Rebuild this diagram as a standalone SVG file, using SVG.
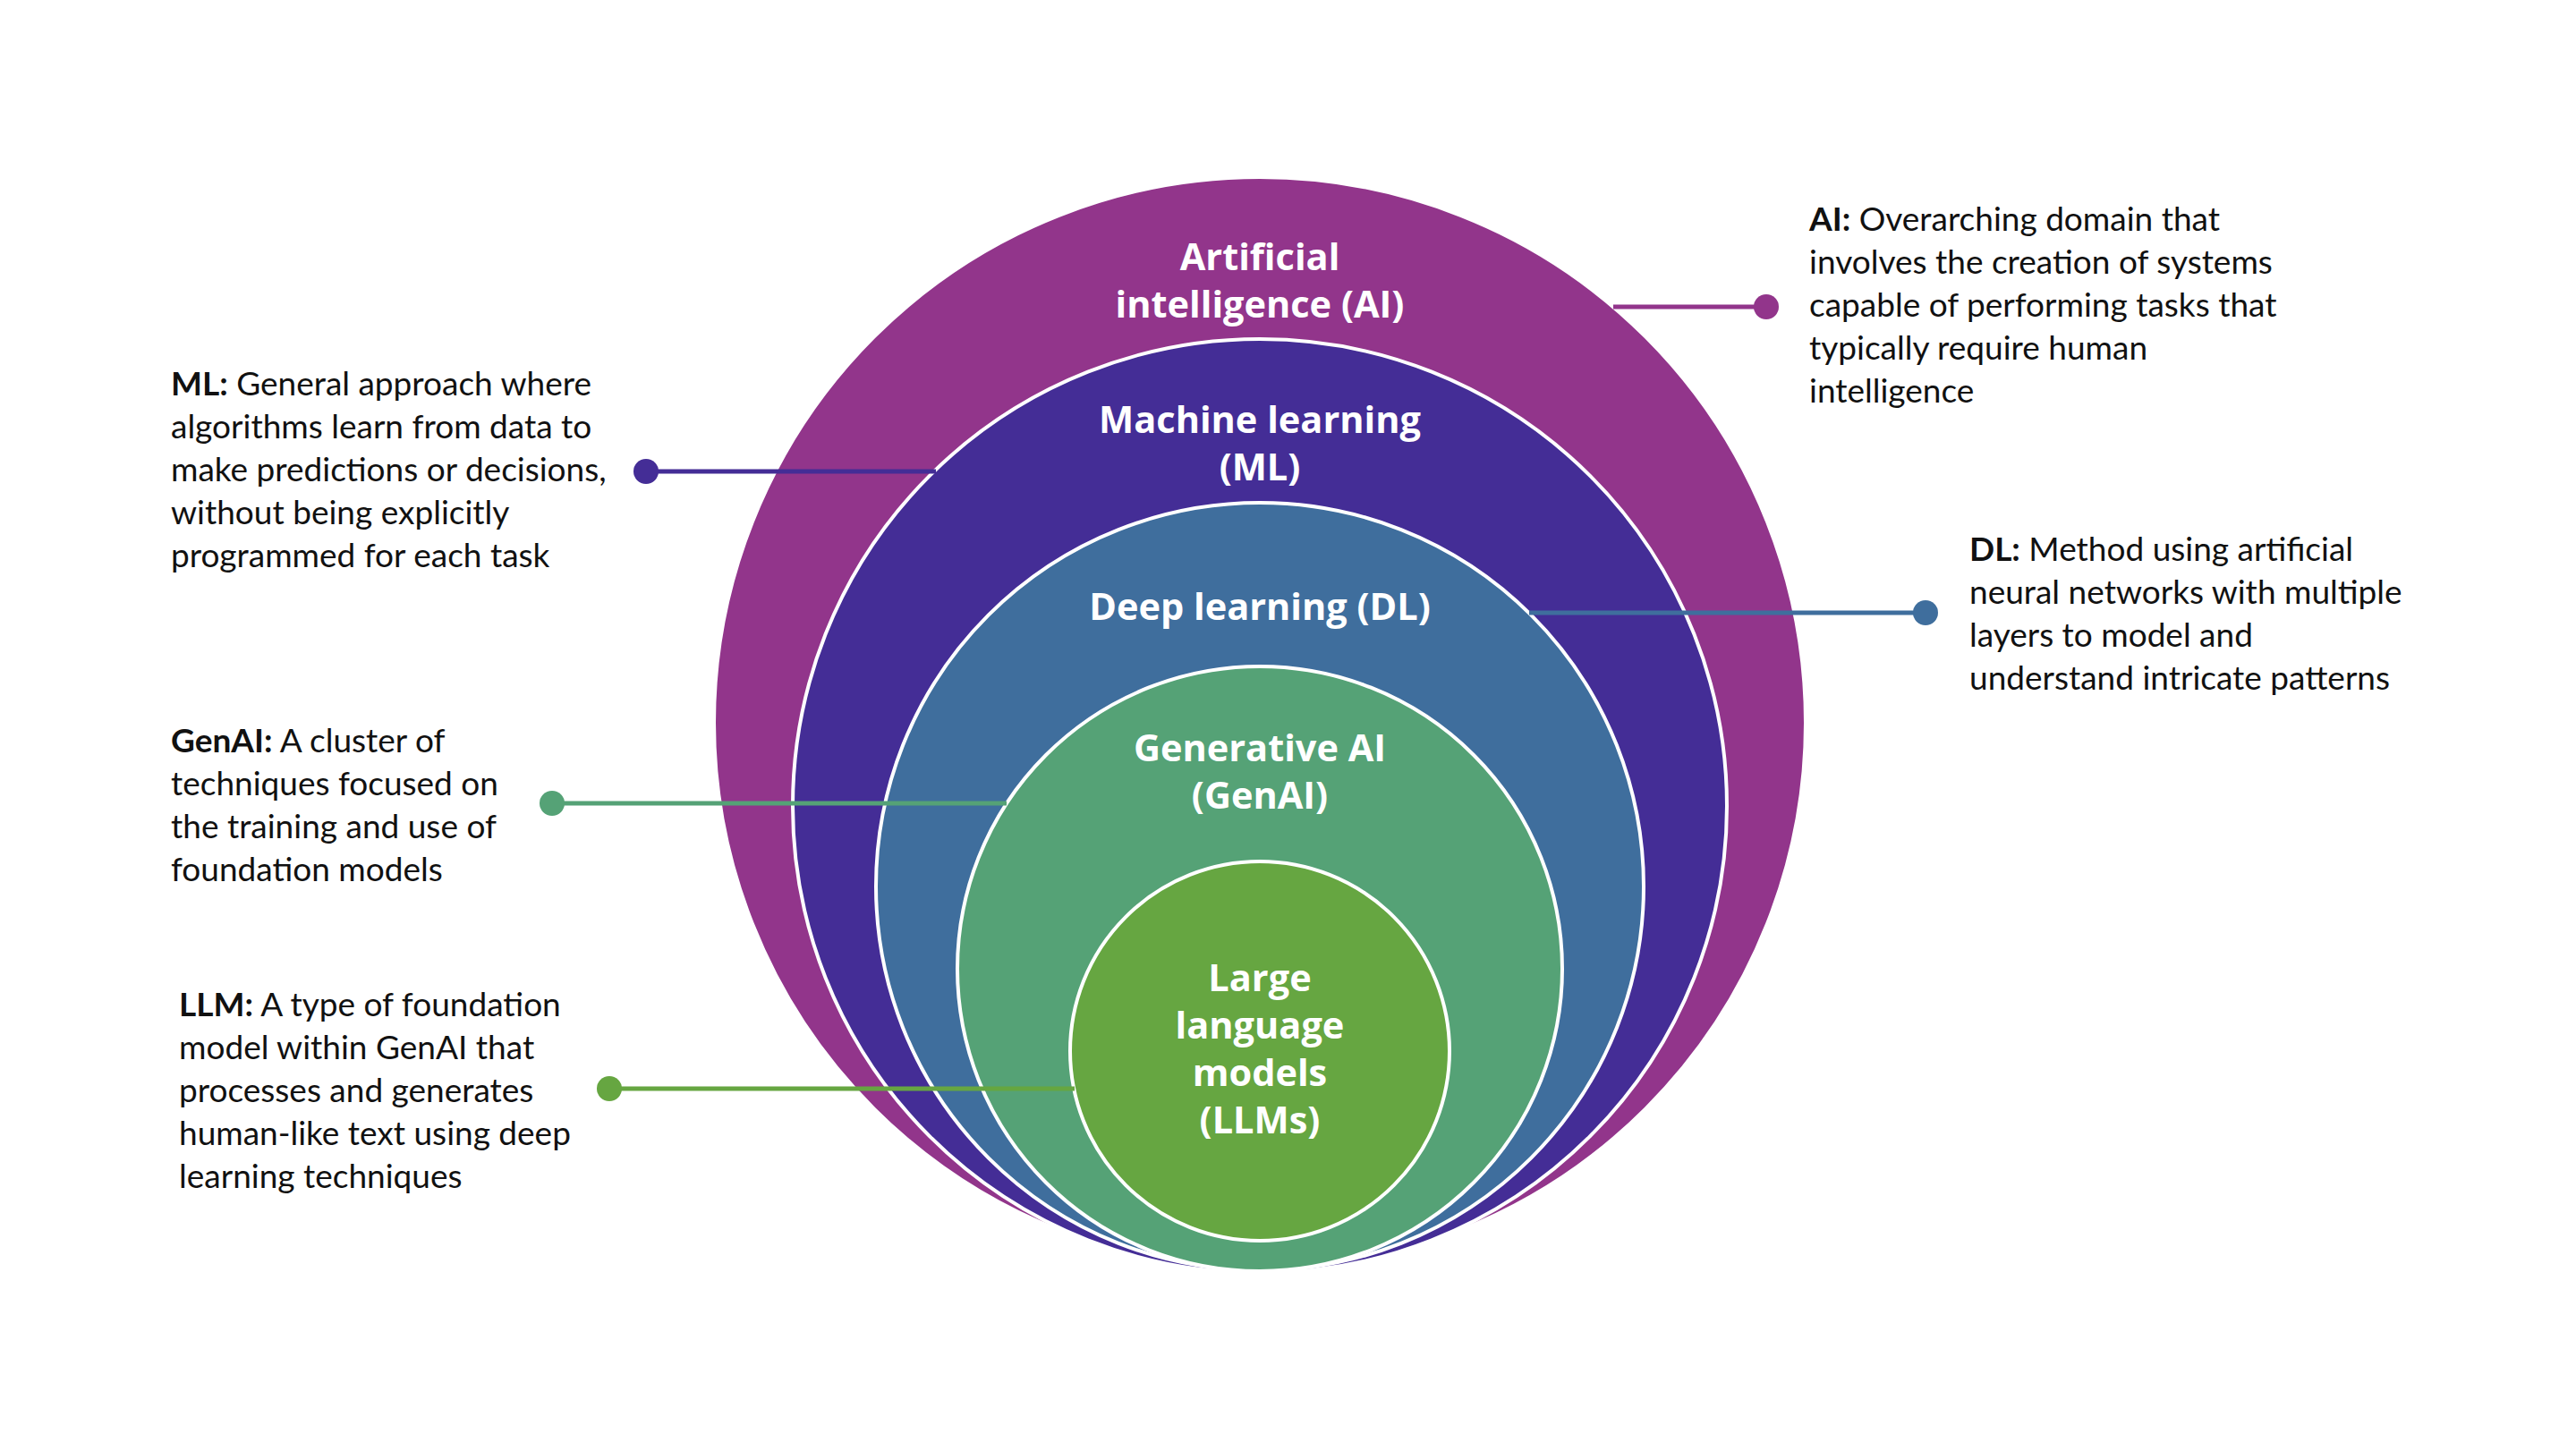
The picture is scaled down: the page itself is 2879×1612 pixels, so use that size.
<svg xmlns="http://www.w3.org/2000/svg" width="2879" height="1612" viewBox="0 0 2879 1612">
<style>
.ring{stroke:#ffffff;stroke-width:4}
.lbl{font-family:"Open Sans","Noto Sans",sans-serif;font-weight:700;font-size:41.5px;fill:#ffffff;text-anchor:middle}
.desc{font-family:Lato,"Noto Sans",sans-serif;font-size:37px;fill:#111111}
.desc tspan.b{font-weight:700}
.conn{stroke-width:5;fill:none}
</style>
<rect width="2879" height="1612" fill="#ffffff"/>
<g id="node-ai">
<circle class="ring" cx="1408" cy="808" r="610" fill="#92358B"/>
<text class="lbl"><tspan x="1408" y="302">Artificial</tspan><tspan x="1408" y="355">intelligence (AI)</tspan></text>
</g>
<g id="node-ml">
<circle class="ring" cx="1408" cy="901" r="522" fill="#442D96"/>
<text class="lbl"><tspan x="1408" y="484">Machine learning</tspan><tspan x="1408" y="537">(ML)</tspan></text>
</g>
<g id="node-dl">
<circle class="ring" cx="1408" cy="991" r="429" fill="#3F6E9D"/>
<text class="lbl"><tspan x="1408" y="693">Deep learning (DL)</tspan></text>
</g>
<g id="node-genai">
<circle class="ring" cx="1408" cy="1083" r="338" fill="#55A276"/>
<text class="lbl"><tspan x="1408" y="851">Generative AI</tspan><tspan x="1408" y="904">(GenAI)</tspan></text>
</g>
<g id="node-llm">
<circle class="ring" cx="1408" cy="1175" r="212" fill="#66A641"/>
<text class="lbl"><tspan x="1408" y="1108">Large</tspan><tspan x="1408" y="1161">language</tspan><tspan x="1408" y="1214">models</tspan><tspan x="1408" y="1267">(LLMs)</tspan></text>
</g>
<g id="connectors">
<line class="conn" x1="1803" y1="343" x2="1974" y2="343" stroke="#92358B"/>
<circle cx="1974" cy="343" r="14" fill="#92358B"/>
<line class="conn" x1="722" y1="527" x2="1046" y2="527" stroke="#442D96"/>
<circle cx="722" cy="527" r="14" fill="#442D96"/>
<line class="conn" x1="1709" y1="685" x2="2152" y2="685" stroke="#3F6E9D"/>
<circle cx="2152" cy="685" r="14" fill="#3F6E9D"/>
<line class="conn" x1="617" y1="898" x2="1125" y2="898" stroke="#55A276"/>
<circle cx="617" cy="898" r="14" fill="#55A276"/>
<line class="conn" x1="681" y1="1217" x2="1201" y2="1217" stroke="#66A641"/>
<circle cx="681" cy="1217" r="14" fill="#66A641"/>
</g>
<g id="desc-ai">
<text class="desc"><tspan x="2022" y="258"><tspan class="b">AI:</tspan> Overarching domain that</tspan><tspan x="2022" y="306">involves the creation of systems</tspan><tspan x="2022" y="354">capable of performing tasks that</tspan><tspan x="2022" y="402">typically require human</tspan><tspan x="2022" y="450">intelligence</tspan></text>
</g>
<g id="desc-ml">
<text class="desc"><tspan x="191" y="442"><tspan class="b">ML:</tspan> General approach where</tspan><tspan x="191" y="490">algorithms learn from data to</tspan><tspan x="191" y="538">make predictions or decisions,</tspan><tspan x="191" y="586">without being explicitly</tspan><tspan x="191" y="634">programmed for each task</tspan></text>
</g>
<g id="desc-dl">
<text class="desc"><tspan x="2201" y="627"><tspan class="b">DL:</tspan> Method using artificial</tspan><tspan x="2201" y="675">neural networks with multiple</tspan><tspan x="2201" y="723">layers to model and</tspan><tspan x="2201" y="771">understand intricate patterns</tspan></text>
</g>
<g id="desc-genai">
<text class="desc"><tspan x="191" y="841"><tspan class="b">GenAI:</tspan> A cluster of</tspan><tspan x="191" y="889">techniques focused on</tspan><tspan x="191" y="937">the training and use of</tspan><tspan x="191" y="985">foundation models</tspan></text>
</g>
<g id="desc-llm">
<text class="desc"><tspan x="200" y="1136"><tspan class="b">LLM:</tspan> A type of foundation</tspan><tspan x="200" y="1184">model within GenAI that</tspan><tspan x="200" y="1232">processes and generates</tspan><tspan x="200" y="1280">human-like text using deep</tspan><tspan x="200" y="1328">learning techniques</tspan></text>
</g>
</svg>
